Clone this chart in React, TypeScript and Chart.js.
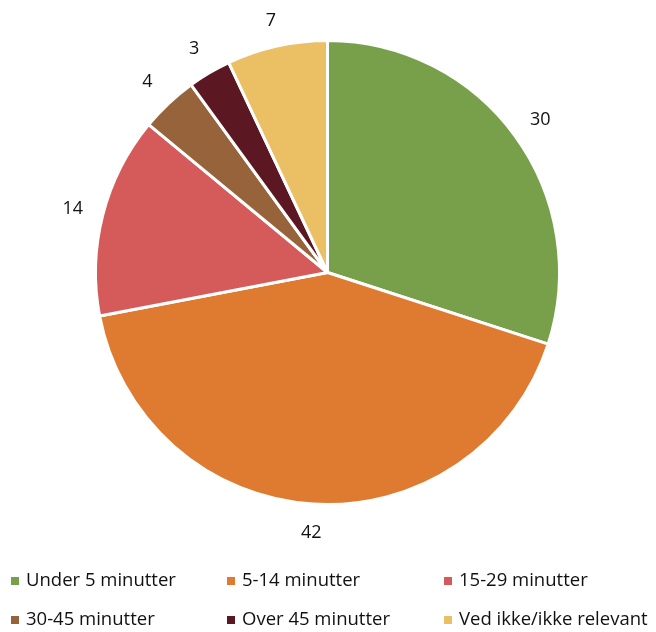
import React, { useEffect, useRef } from "react";
import { Chart, registerables } from "chart.js";

Chart.register(...registerables);

const categories = [
  "Under 5 minutter",
  "5-14 minutter",
  "15-29 minutter",
  "30-45 minutter",
  "Over 45 minutter",
  "Ved ikke/ikke relevant",
];
const values = [30, 42, 14, 4, 3, 7];
const colors = ["#78A04B", "#DE7B31", "#D45B5A", "#97633A", "#5B1722", "#EBBF63"];

// radial gap (px) between pie edge and each value label
const labelGaps = [31, 27, 31, 31, 30, 27];

const FONT = "'Open Sans', sans-serif";

const labelPlugin = {
  id: "outsideLabels",
  afterDatasetsDraw(chart: any) {
    const ctx = chart.ctx;
    const meta = chart.getDatasetMeta(0);
    ctx.save();
    ctx.font = `18px ${FONT}`;
    ctx.fillStyle = "#111111";
    ctx.textAlign = "center";
    ctx.textBaseline = "middle";
    meta.data.forEach((arc: any, i: number) => {
      const { x, y, startAngle, endAngle, outerRadius } = arc.getProps(
        ["x", "y", "startAngle", "endAngle", "outerRadius"],
        true
      );
      const mid = (startAngle + endAngle) / 2;
      const r = outerRadius + labelGaps[i];
      ctx.fillText(String(values[i]), x + Math.cos(mid) * r, y + Math.sin(mid) * r + 1.5);
    });
    ctx.restore();
  },
};

const legendPlugin = {
  id: "gridLegend",
  afterDraw(chart: any) {
    const ctx = chart.ctx;
    const colX = [11, 227, 444];
    const rowY = [581, 620];
    ctx.save();
    ctx.font = `18.5px ${FONT}`;
    ctx.textAlign = "left";
    ctx.textBaseline = "middle";
    categories.forEach((c, i) => {
      const x = colX[i % 3];
      const y = rowY[Math.floor(i / 3)];
      ctx.fillStyle = colors[i];
      ctx.fillRect(x, y - 4, 8, 8);
      ctx.fillStyle = "#111111";
      ctx.fillText(c, x + 15, y);
    });
    ctx.restore();
  },
};

export default function App() {
  const ref = useRef<HTMLCanvasElement | null>(null);
  useEffect(() => {
    if (!ref.current) return;
    const chart = new Chart(ref.current, {
      type: "pie",
      data: {
        labels: categories,
        datasets: [
          {
            data: values,
            backgroundColor: colors,
            borderColor: "#ffffff",
            borderWidth: 3,
          },
        ],
      },
      options: {
        animation: false,
        responsive: false,
        maintainAspectRatio: false,
        layout: { padding: { left: 94, right: 95, top: 39, bottom: 126 } },
        plugins: {
          legend: { display: false },
          tooltip: { enabled: false },
        },
      },
      plugins: [labelPlugin, legendPlugin],
    });
    return () => chart.destroy();
  }, []);
  return (
    <div style={{ position: "fixed", left: 0, top: 0, width: 656, height: 632, background: "#fff" }}>
      <canvas ref={ref} width={656} height={632} style={{ width: 656, height: 632 }} />
    </div>
  );
}
